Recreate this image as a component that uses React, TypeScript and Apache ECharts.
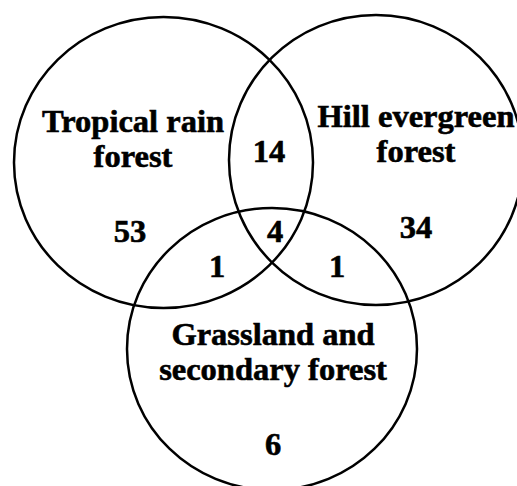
import React, { useEffect, useRef } from "react";
import * as echarts from "echarts";

// ---- Data ----
const setNames = ["Tropical rain forest", "Hill evergreen forest", "Grassland and secondary forest"];
const setLabelLines = [
  ["Tropical rain", "forest"],
  ["Hill evergreen", "forest"],
  ["Grassland and", "secondary forest"],
];
const regionNames = [
  "Tropical rain forest only",
  "Hill evergreen forest only",
  "Grassland and secondary forest only",
  "Tropical rain ∩ Hill evergreen",
  "Tropical rain ∩ Grassland",
  "Hill evergreen ∩ Grassland",
  "All three",
];
const regionCounts = [53, 34, 6, 14, 1, 1, 4];

// ---- Layout (chart coordinate space 0..517 x 0..486, y downward) ----
const circleLayout = [
  [163.5, 162.5, 149.5, 145.5],
  [376, 160, 147, 145],
  [272, 349, 145, 141],
];
const setLabelPos = [
  [133, 138.5],
  [416, 133.5],
  [273, 351.5],
];
const regionLabelPos = [
  [130, 231],
  [416, 227],
  [273, 444],
  [269, 151],
  [217, 266],
  [337, 266],
  [275, 231],
];

const W = 517;
const H = 486;
const FONT = {
  fontFamily: "Liberation Serif",
  fontWeight: "bold" as const,
  fontSize: 32.5,
  color: "#000000",
  opacity: 1,
  textBorderWidth: 0.6,
  textBorderColor: "#000000",
  textShadowBlur: 0,
};

export default function App() {
  const ref = useRef<HTMLDivElement>(null);
  useEffect(() => {
    if (!ref.current) return;
    const chart = echarts.init(ref.current, null, { renderer: "svg" });
    chart.setOption({
      animation: false,
      backgroundColor: "#ffffff",
      grid: { left: 0, right: 0, top: 0, bottom: 0 },
      xAxis: { type: "value", min: 0, max: W, show: false },
      yAxis: { type: "value", min: 0, max: H, inverse: true, show: false },
      series: [
        {
          type: "custom",
          coordinateSystem: "cartesian2d",
          silent: true,
          data: circleLayout.map((c, i) => ({ name: setNames[i], value: c })),
          renderItem: (_params: any, api: any) => {
            const c = api.coord([api.value(0), api.value(1)]);
            const s = api.size([api.value(2), api.value(3)]);
            return {
              type: "ellipse",
              shape: { cx: c[0], cy: c[1], rx: Math.abs(s[0]), ry: Math.abs(s[1]) },
              style: { fill: "none", stroke: "#000", lineWidth: 2.5 },
            };
          },
        },
        {
          type: "scatter",
          silent: true,
          symbolSize: 1,
          itemStyle: { color: "rgba(0,0,0,0)" },
          label: { show: true, position: "inside", ...FONT, lineHeight: 35, align: "center", verticalAlign: "middle" },
          data: setLabelPos.map((p, i) => ({
            name: setNames[i],
            value: p,
            label: { formatter: setLabelLines[i].join("\n") },
          })),
        },
        {
          type: "scatter",
          silent: true,
          symbolSize: 1,
          itemStyle: { color: "rgba(0,0,0,0)" },
          label: { show: true, position: "inside", ...FONT, align: "center", verticalAlign: "middle" },
          data: regionLabelPos.map((p, i) => ({
            name: regionNames[i],
            value: p,
            label: { formatter: String(regionCounts[i]) },
          })),
        },
      ],
    });
    return () => chart.dispose();
  }, []);
  return <div ref={ref} style={{ position: "fixed", left: 0, top: 0, width: W, height: H }} />;
}
